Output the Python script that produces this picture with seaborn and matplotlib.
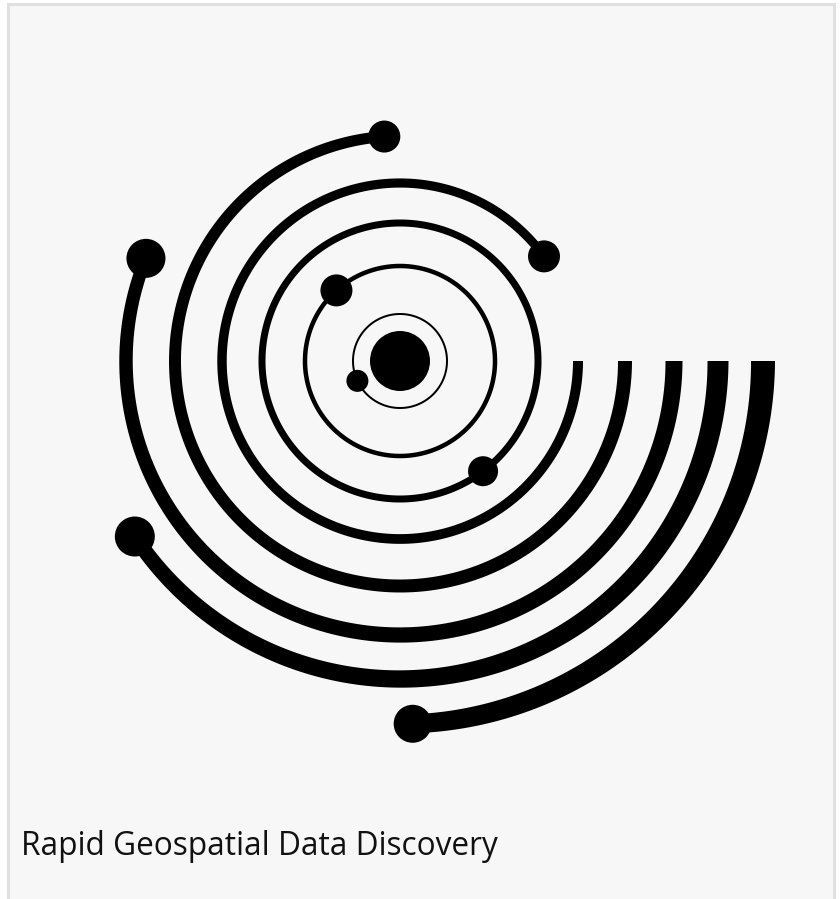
import numpy as np
import matplotlib
matplotlib.use('Agg')
import matplotlib.pyplot as plt
import seaborn as sns
from matplotlib.patches import Rectangle

# ring data (pixel units, angles in degrees, counter-clockwise from the right)
ring_radius = [47, 95, 138, 178, 225, 274, 318, 363]
ring_start = [0, 0, 0, 36, 94, 158, 213, 272]
ring_end = [360, 360, 360, 360, 360, 360, 360, 360]
ring_width_start = [2, 4.5, 7, 9, 11, 13, 15, 19]
ring_width_end = [2, 4.5, 7, 10, 14, 17, 21, 24]

# dots sitting on the rings (ring radius 0 = centre)
dot_ring = [0, 47, 95, 138, 178, 225, 274, 318, 363]
dot_angle = [0, 205, 132, 307, 36, 94, 158, 213.5, 272]
dot_size = [30, 11, 16, 15, 16, 16, 19.5, 20, 19]

title = "Rapid Geospatial Data Discovery"
cx, cy = 400, 361

sns.set_theme(style="white")
plt.rcParams['font.family'] = ['Open Sans', 'DejaVu Sans']

W, H = 840, 899
fig = plt.figure(figsize=(W / 100, H / 100), dpi=100)
fig.patch.set_facecolor('white')
ax = fig.add_axes([0, 0, 1, 1])

# card background with border
ax.add_patch(Rectangle((7.5, 4), 826.5, H + 10, facecolor='#f7f7f7',
                       edgecolor='#e0e0e0', linewidth=2.2, zorder=0))

# rings as tapered annulus polygons
for r, a0, a1, w0, w1 in zip(ring_radius, ring_start, ring_end,
                             ring_width_start, ring_width_end):
    th = np.radians(np.linspace(a0, a1, 400))
    w = np.linspace(w0, w1, len(th))
    ro = r + w / 2
    ri = r - w / 2
    xs = np.concatenate([cx + ro * np.cos(th), cx + ri[::-1] * np.cos(th[::-1])])
    ys = np.concatenate([cy - ro * np.sin(th), cy - ri[::-1] * np.sin(th[::-1])])
    ax.fill(xs, ys, color='black', linewidth=0, zorder=2)

# dots
dth = np.radians(dot_angle)
dx = cx + np.array(dot_ring) * np.cos(dth)
dy = cy - np.array(dot_ring) * np.sin(dth)
s = (2 * np.array(dot_size) * 0.72) ** 2
sns.scatterplot(x=dx, y=dy, s=s, color='black', linewidth=0, ax=ax, zorder=3,
                legend=False)
ax.set_xlim(0, W)
ax.set_ylim(H, 0)
ax.axis('off')

ax.text(21, 855, title, fontsize=22.8, color='#111111', ha='left', va='baseline')

fig.savefig('out.png', dpi=100, facecolor='white')
